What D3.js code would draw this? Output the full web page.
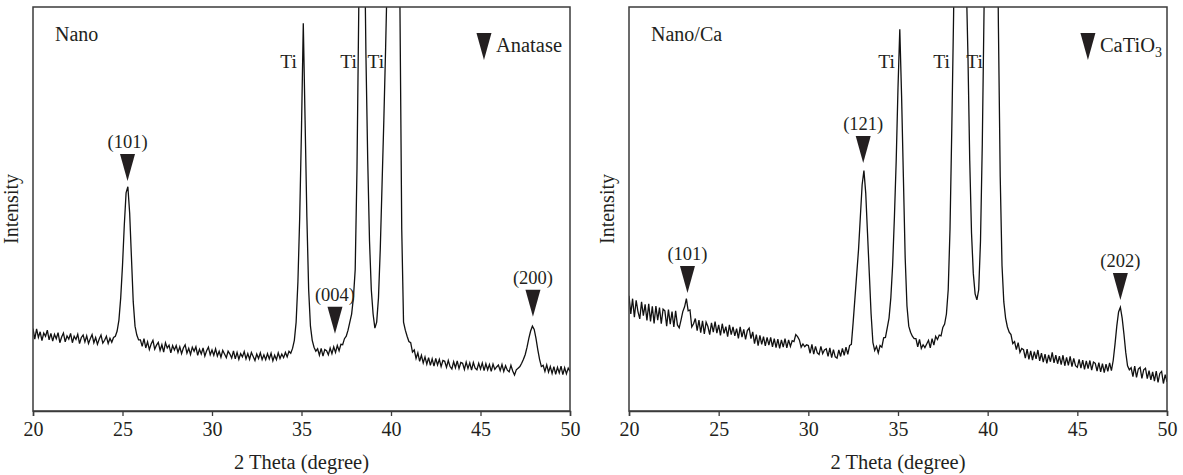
<!DOCTYPE html>
<html>
<head>
<meta charset="utf-8">
<script src="https://cdn.jsdelivr.net/npm/d3@7"></script>
<style>
  html, body { margin: 0; padding: 0; background: #fff; }
  svg { display: block; }
  text { font-family: "Liberation Serif", "Times New Roman", serif; fill: #231f20; }
</style>
</head>
<body>
<svg id="chart" width="1183" height="475"></svg>
<script>
// ---- data (2θ grid 20.0 .. 50.0, step 0.1) ----
const xTicks = [20, 25, 30, 35, 40, 45, 50];
const panelTitles = ["Nano", "Nano/Ca"];
const legendLabels = ["Anatase", "CaTiO3"];

// Intensity (arbitrary units, 0 = frame bottom, 100 = frame top; higher values clip)
const nanoIntensity = [
  20.4, 17.8, 20.3, 18.2, 19.6, 17.4, 19.3, 18.5, 20.0, 17.6,
  19.2, 17.3, 19.0, 17.9, 19.4, 16.9, 18.3, 19.3, 17.1, 18.6,
  17.8, 19.2, 16.9, 18.5, 17.7, 19.0, 16.7, 18.2, 18.8, 17.1,
  18.6, 16.7, 17.9, 18.9, 16.9, 18.2, 16.5, 17.8, 18.8, 16.8,
  17.5, 18.5, 16.7, 18.0, 17.0, 18.2, 18.5, 19.8, 22.5, 28.0,
  36.0, 46.0, 54.0, 55.5, 49.0, 38.0, 27.0, 21.0, 18.8, 17.6,
  17.6, 16.0, 17.9, 15.6, 17.1, 15.2, 16.6, 17.5, 15.3, 16.3,
  17.0, 15.0, 16.4, 14.6, 16.9, 15.6, 16.3, 14.4, 16.2, 15.1,
  16.2, 14.5, 15.9, 14.2, 15.6, 16.4, 14.3, 15.5, 14.0, 15.8,
  14.8, 15.9, 13.8, 15.3, 14.1, 15.6, 13.6, 14.9, 15.8, 13.9,
  15.1, 13.8, 15.4, 13.6, 14.8, 13.3, 15.0, 14.1, 13.2, 14.8,
  14.1, 13.1, 14.9, 12.9, 14.5, 12.8, 14.2, 13.4, 14.7, 12.9,
  14.2, 12.8, 14.5, 13.5, 12.5, 14.1, 13.0, 14.4, 12.7, 13.9,
  12.7, 14.2, 12.9, 14.3, 12.4, 13.8, 12.7, 14.4, 13.0, 14.1,
  13.2, 14.5, 13.4, 14.8, 14.3, 15.5, 17.5, 22.0, 32.0, 48.0,
  70.0, 96.0, 72.0, 48.0, 30.0, 21.0, 17.5, 15.8, 14.8, 15.4,
  13.8, 15.5, 13.6, 15.2, 14.9, 13.9, 15.6, 14.2, 15.9, 14.5,
  16.2, 14.9, 16.5, 16.4, 17.9, 18.5, 20.0, 22.0, 24.0, 28.0,
  35.0, 60.0, 100.0, 150.0, 170.0, 125.0, 88.0, 62.0, 42.0, 30.0,
  24.0, 20.5, 22.0, 28.0, 40.0, 56.0, 72.0, 90.0, 110.0, 150.0,
  200.0, 240.0, 250.0, 220.0, 160.0, 100.0, 45.0, 22.0, 20.0, 18.5,
  17.2, 16.9, 14.6, 15.1, 13.0, 14.4, 12.3, 13.8, 11.9, 13.4,
  11.6, 13.2, 11.3, 12.9, 11.1, 13.0, 11.4, 12.8, 11.0, 12.5,
  12.3, 10.8, 12.5, 11.0, 10.4, 12.2, 10.7, 12.4, 10.5, 12.0,
  11.8, 10.3, 12.1, 10.5, 11.9, 10.1, 12.0, 10.6, 10.2, 11.8,
  10.4, 11.9, 10.0, 11.7, 10.2, 11.5, 9.8, 11.6, 10.3, 10.9,
  11.4, 10.0, 11.5, 9.8, 11.2, 10.1, 9.7, 11.3, 9.9, 8.9,
  10.2, 10.6, 11.0, 11.8, 12.8, 14.0, 15.8, 18.0, 19.8, 21.0,
  20.2, 18.0, 15.2, 12.8, 11.0, 11.3, 9.8, 11.4, 9.6, 11.0,
  9.3, 11.0, 9.1, 10.8, 9.4, 11.1, 9.0, 10.7, 9.2, 10.6,
  9.8
];

const nanoCaIntensity = [
  28.5, 24.0, 27.8, 23.2, 27.4, 24.6, 22.8, 27.0, 23.6, 26.4,
  22.4, 26.5, 22.2, 25.9, 21.7, 26.0, 22.5, 25.6, 21.6, 25.2,
  24.8, 21.0, 25.1, 21.5, 24.6, 20.8, 24.8, 21.3, 20.6, 22.5,
  24.6, 25.8, 27.8, 24.8, 25.0, 20.8, 21.6, 22.9, 19.9, 22.5,
  19.4, 22.3, 19.1, 22.0, 20.9, 18.9, 21.8, 19.5, 22.1, 19.3,
  21.3, 18.7, 21.6, 19.2, 20.9, 18.4, 21.3, 18.9, 20.8, 18.6,
  20.4, 18.0, 20.8, 18.3, 20.2, 17.7, 19.9, 20.5, 17.9, 19.6,
  16.7, 18.9, 16.2, 18.7, 16.5, 18.4, 16.1, 18.2, 16.3, 18.2,
  15.9, 17.9, 15.7, 17.8, 15.5, 17.6, 15.8, 17.9, 15.6, 17.6,
  16.0, 17.4, 17.2, 18.9, 18.4, 17.6, 15.8, 16.6, 15.9, 16.4,
  16.2, 14.3, 16.5, 14.1, 16.0, 14.4, 14.0, 16.0, 14.2, 15.1,
  15.4, 13.5, 15.6, 13.2, 15.2, 13.4, 13.1, 15.1, 13.5, 15.5,
  13.8, 15.8, 14.0, 16.2, 16.5, 22.0, 28.0, 34.0, 40.0, 48.0,
  56.0, 59.5, 54.0, 44.0, 34.0, 24.0, 17.0, 15.0, 16.0, 14.4,
  16.2, 15.8, 18.1, 18.2, 20.6, 23.0, 28.0, 36.0, 48.0, 62.0,
  80.0, 94.5, 78.0, 58.0, 38.0, 26.0, 21.0, 19.5, 18.5, 17.9,
  17.9, 15.9, 17.7, 15.5, 16.4, 15.7, 16.6, 17.5, 15.6, 17.9,
  16.3, 18.5, 17.7, 18.8, 18.6, 20.7, 21.5, 24.0, 30.0, 45.0,
  70.0, 98.0, 140.0, 170.0, 180.0, 165.0, 145.0, 125.0, 108.0, 88.0,
  62.0, 44.0, 34.0, 29.0, 27.5, 30.0, 42.0, 66.0, 100.0, 150.0,
  220.0, 260.0, 270.0, 250.0, 200.0, 140.0, 95.0, 58.0, 36.0, 27.0,
  23.0, 20.8, 19.5, 18.9, 16.7, 17.2, 15.2, 16.9, 14.5, 15.5,
  15.2, 13.1, 15.3, 12.8, 14.9, 12.6, 14.7, 12.9, 15.1, 12.4,
  14.3, 12.1, 14.1, 11.8, 13.9, 12.2, 14.5, 11.9, 13.8, 11.7,
  13.6, 11.5, 13.8, 11.2, 13.3, 11.3, 13.5, 11.0, 13.0, 11.2,
  10.8, 12.8, 10.6, 12.6, 10.3, 12.4, 10.5, 12.5, 10.1, 12.1,
  11.8, 9.9, 12.0, 9.7, 11.7, 9.5, 11.6, 9.8, 11.9, 10.0,
  12.5, 16.5, 21.0, 24.5, 25.7, 23.0, 19.0, 14.5, 11.2, 10.2,
  10.7, 8.5, 11.1, 8.3, 10.4, 10.8, 8.1, 10.2, 10.6, 8.0,
  10.0, 7.7, 9.7, 7.4, 9.9, 7.1, 9.3, 9.8, 6.8, 9.0,
  7.2
];

// peak annotations: label, 2θ of marker, intensity at marker tip
const nanoPeakLabels = ["(101)", "(004)", "(200)"];
const nanoPeakTheta  = [25.28, 36.87, 47.93];
const nanoPeakTip    = [56.9, 19.1, 23.3];
const nanoCaPeakLabels = ["(101)", "(121)", "(202)"];
const nanoCaPeakTheta  = [23.26, 33.06, 47.40];
const nanoCaPeakTip    = [29.2, 61.4, 27.5];

// "Ti" labels: 2θ where label ends (just left of the Ti reflections)
const nanoTiTheta   = [34.75, 38.10, 39.62];
const nanoCaTiTheta = [34.83, 37.90, 39.74];
const tiLabelLevel = 85;

// ---- drawing ----
const svg = d3.select("#chart");
const twoTheta = d3.range(301).map(i => 20 + i * 0.1);

const panels = [
  { left: 33, right: 570, title: panelTitles[0], values: nanoIntensity,
    peaks: nanoPeakLabels.map((l, i) => ({ label: l, x: nanoPeakTheta[i], y: nanoPeakTip[i] })),
    ti: nanoTiTheta, legend: legendLabels[0], legendEnd: 8, id: "a" },
  { left: 629, right: 1167, title: panelTitles[1], values: nanoCaIntensity,
    peaks: nanoCaPeakLabels.map((l, i) => ({ label: l, x: nanoCaPeakTheta[i], y: nanoCaPeakTip[i] })),
    ti: nanoCaTiTheta, legend: legendLabels[1], legendEnd: 5, id: "b" }
];

const plotTop = 7, plotBottom = 411;
const yScale = d3.scaleLinear().domain([0, 100]).range([plotBottom, plotTop]);
const ink = "#231f20";

panels.forEach(p => {
  const x = d3.scaleLinear().domain([20, 50]).range([p.left, p.right]);
  const g = svg.append("g");

  g.append("clipPath").attr("id", "clip-" + p.id)
    .append("rect").attr("x", p.left).attr("y", plotTop)
    .attr("width", p.right - p.left).attr("height", plotBottom - plotTop);

  // data line
  const line = d3.line().x((d, i) => x(twoTheta[i])).y(d => yScale(d));
  g.append("path").datum(p.values)
    .attr("clip-path", `url(#clip-${p.id})`)
    .attr("d", line).attr("fill", "none")
    .attr("stroke", "#111").attr("stroke-width", 1.3)
    .attr("stroke-linejoin", "miter");

  // frame
  g.append("rect").attr("x", p.left).attr("y", plotTop)
    .attr("width", p.right - p.left).attr("height", plotBottom - plotTop)
    .attr("fill", "none").attr("stroke", "#3b3b3b").attr("stroke-width", 1.5);

  // x axis
  const axis = d3.axisBottom(x).tickValues(xTicks).tickSize(5).tickPadding(6)
    .tickFormat(d3.format("d"));
  const ax = g.append("g").attr("transform", `translate(0,${plotBottom})`).call(axis);
  ax.select(".domain").attr("stroke", "#3b3b3b").attr("stroke-width", 1.5);
  ax.selectAll(".tick line").attr("stroke", "#3b3b3b").attr("stroke-width", 1.3);
  ax.selectAll(".tick text").attr("font-family", "Liberation Serif, serif")
    .attr("font-size", 20).attr("fill", ink);

  // axis titles
  g.append("text").attr("x", (p.left + p.right) / 2).attr("y", 469)
    .attr("text-anchor", "middle").attr("font-size", 20.5).text("2 Theta (degree)");
  g.append("text")
    .attr("transform", `translate(${p.left - 15},${(plotTop + plotBottom) / 2}) rotate(-90)`)
    .attr("text-anchor", "middle").attr("font-size", 20).text("Intensity");

  // panel title
  g.append("text").attr("x", p.left + 22).attr("y", 41)
    .attr("font-size", 20).text(p.title);

  // Ti labels
  p.ti.forEach(t => {
    g.append("text").attr("x", x(t)).attr("y", yScale(tiLabelLevel))
      .attr("text-anchor", "end").attr("font-size", 19.5).text("Ti");
  });

  // peak markers
  const tri = (cx, tipY) => `M${cx - 7.5},${tipY - 27}L${cx + 7.5},${tipY - 27}L${cx},${tipY}Z`;
  p.peaks.forEach(pk => {
    const cx = x(pk.x), ty = yScale(pk.y);
    g.append("path").attr("d", tri(cx, ty)).attr("fill", ink);
    g.append("text").attr("x", cx).attr("y", ty - 33)
      .attr("text-anchor", "middle").attr("font-size", 18.5).text(pk.label);
  });

  // legend
  const lt = g.append("text").attr("x", p.right - p.legendEnd).attr("y", 52)
    .attr("text-anchor", "end").attr("font-size", 20.5);
  if (p.legend === "CaTiO3") {
    lt.append("tspan").text("CaTiO");
    lt.append("tspan").attr("font-size", 14).attr("dy", 5).text("3");
  } else {
    lt.text(p.legend);
  }
  const bb = lt.node().getBBox();
  g.append("path").attr("d", tri(bb.x - 12, 60)).attr("fill", ink);
});
</script>
</body>
</html>
